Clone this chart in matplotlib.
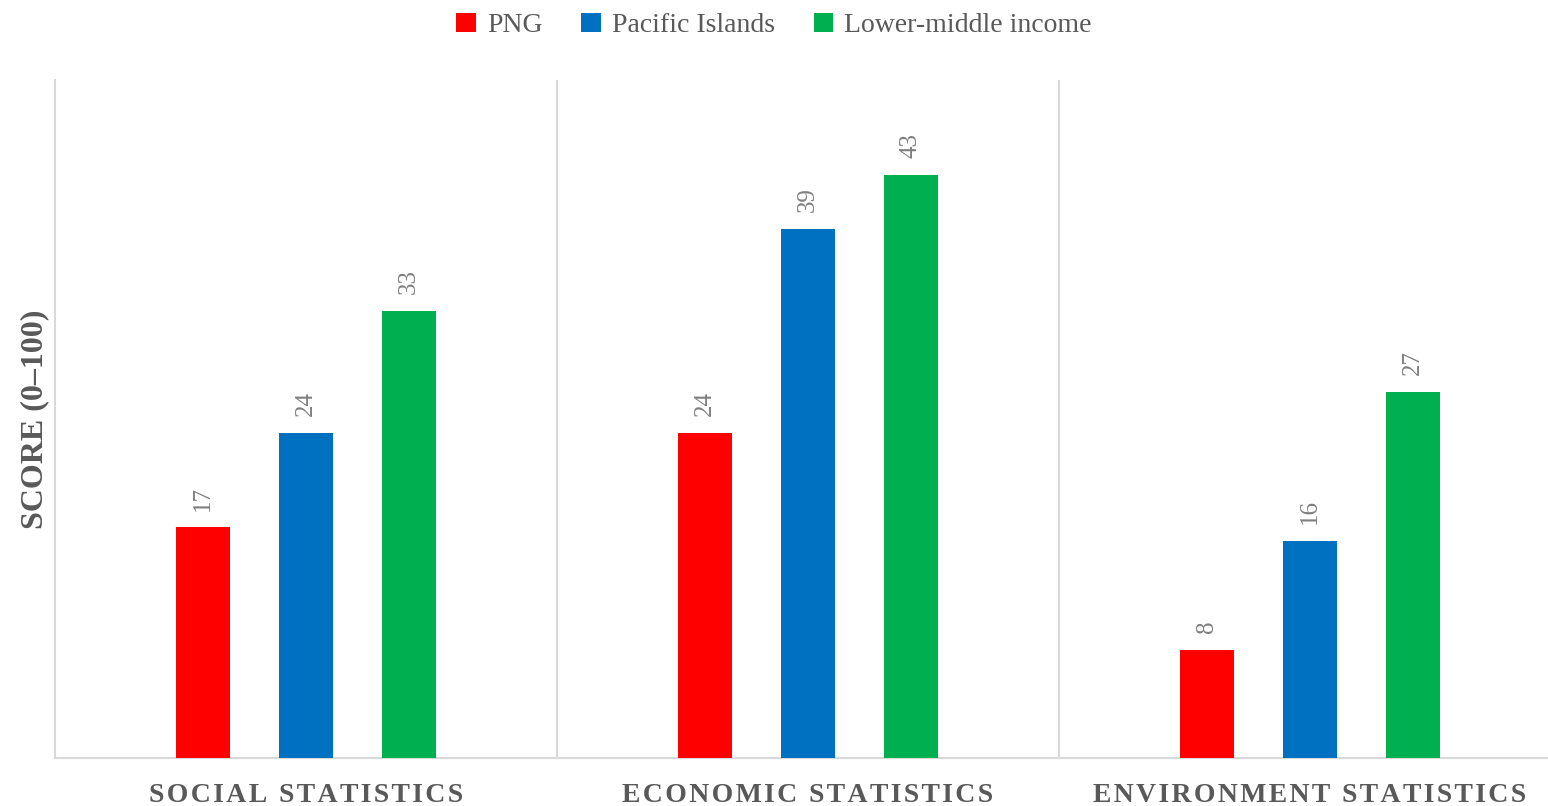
import numpy as np
import matplotlib.pyplot as plt

plt.rcParams["font.family"] = ["Liberation Serif", "DejaVu Serif"]

categories = ["SOCIAL STATISTICS", "ECONOMIC STATISTICS", "ENVIRONMENT STATISTICS"]
series = ["PNG", "Pacific Islands", "Lower-middle income"]
png = [17, 24, 8]
pacific = [24, 39, 16]
lower_middle = [33, 43, 27]
colors = ["#FF0000", "#0070C0", "#00B050"]

TEXT = "#595959"
LABEL = "#7f7f7f"
GRID = "#d9d9d9"


def spaced(s):
    # crude letter spacing for the category captions
    return "\u200a".join(s)


fig = plt.figure(figsize=(15.48, 8.06), dpi=100)
ax = fig.add_axes([55 / 1548, 48 / 806, 1506 / 1548, 678 / 806])

x = np.arange(len(categories))
width = 0.108
step = 0.205
for k, (name, vals, c) in enumerate(zip(series, [png, pacific, lower_middle], colors)):
    pos = x + (k - 1) * step
    ax.bar(pos, vals, width=width, color=c, label=name, zorder=3)
    for px, v in zip(pos, vals):
        ax.annotate(f"{v}", (px, v), xytext=(0, 12), textcoords="offset points",
                    rotation=90, ha="center", va="bottom", fontsize=18, color=LABEL)

ax.set_xlim(-0.5, len(categories) - 0.5)
ax.set_ylim(0, 50)

# category separators
for b in np.arange(0.5, len(categories) - 0.5, 1.0):
    ax.axvline(b, color=GRID, lw=1.5, zorder=1)

for side in ["top", "right"]:
    ax.spines[side].set_visible(False)
ax.spines["left"].set_color(GRID)
ax.spines["left"].set_linewidth(1.5)
ax.spines["bottom"].set_color(GRID)
ax.spines["bottom"].set_linewidth(1.5)

ax.set_yticks([])
ax.set_xticks(x)
ax.set_xticklabels([spaced(c) for c in categories], fontsize=20,
                   fontweight="bold", color=TEXT)
ax.tick_params(axis="x", length=0, pad=18)

ax.set_ylabel("SCORE (0–100)", fontsize=23, fontweight="bold", color=TEXT, labelpad=4)

leg = fig.legend(loc="upper center", bbox_to_anchor=(0.5, 1.015), ncol=3,
                 frameon=False, fontsize=20, handlelength=0.7, handleheight=0.7,
                 handletextpad=0.4, columnspacing=1.4, labelcolor=TEXT)

fig.savefig("out.png", dpi=100)
